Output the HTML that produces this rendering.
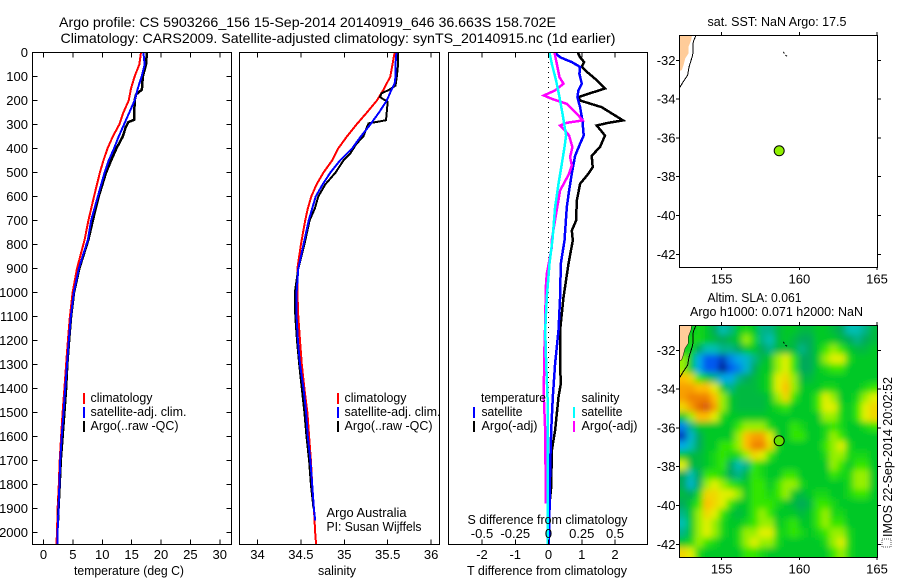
<!DOCTYPE html>
<html lang="en">
<head>
<meta charset="utf-8">
<title>Argo profile 5903266_156</title>
<style>
html,body{margin:0;padding:0;background:#fff;}
svg{display:block;}
text{font-family:"Liberation Sans",Arial,sans-serif;font-size:13px;fill:#000;}
</style>
</head>
<body>
<svg id="fig" xmlns="http://www.w3.org/2000/svg" width="900" height="580" viewBox="0 0 900 580">
<defs>
<clipPath id="clip-t"><rect x="32" y="52" width="200" height="493"/></clipPath>
<clipPath id="clip-s"><rect x="239" y="52" width="200" height="493"/></clipPath>
<clipPath id="clip-d"><rect x="448" y="52" width="200" height="493"/></clipPath>
<clipPath id="clip-m1"><rect x="679" y="35" width="198" height="232"/></clipPath>
<clipPath id="clip-m2"><rect x="679" y="325" width="198" height="232"/></clipPath>
<filter id="smooth" x="-5%" y="-5%" width="110%" height="110%"><feGaussianBlur stdDeviation="3.2"/></filter>
</defs>

<text x="59" y="27" textLength="497" lengthAdjust="spacingAndGlyphs" font-size="14" style="font-size:14px">Argo profile: CS 5903266_156 15-Sep-2014 20140919_646 36.663S 158.702E</text>
<text x="60.5" y="43" textLength="555" lengthAdjust="spacingAndGlyphs" style="font-size:14px">Climatology: CARS2009. Satellite-adjusted climatology: synTS_20140915.nc (1d earlier)</text>

<g id="layer-heat"></g>
<g id="layer-lines"></g>
<g id="layer-axes"></g>

<text x="74" y="575" textLength="110" lengthAdjust="spacingAndGlyphs">temperature (deg C)</text>
<text x="318" y="575" textLength="38" lengthAdjust="spacingAndGlyphs">salinity</text>
<text x="467" y="575" textLength="160" lengthAdjust="spacingAndGlyphs">T difference from climatology</text>
<text x="467.5" y="524" textLength="160" lengthAdjust="spacingAndGlyphs">S difference from climatology</text>

<g shape-rendering="crispEdges">
<rect x="83" y="393" width="2" height="11" fill="#f00"/>
<rect x="83" y="407" width="2" height="11" fill="#00f"/>
<rect x="83" y="421" width="2" height="11" fill="#000"/>
</g>
<text x="90.5" y="402" textLength="62" lengthAdjust="spacingAndGlyphs">climatology</text>
<text x="90.5" y="416" textLength="96" lengthAdjust="spacingAndGlyphs">satellite-adj. clim.</text>
<text x="90.5" y="430" textLength="88" lengthAdjust="spacingAndGlyphs">Argo(..raw -QC)</text>

<g shape-rendering="crispEdges">
<rect x="337" y="393" width="2" height="11" fill="#f00"/>
<rect x="337" y="407" width="2" height="11" fill="#00f"/>
<rect x="337" y="421" width="2" height="11" fill="#000"/>
</g>
<text x="344.5" y="402" textLength="62" lengthAdjust="spacingAndGlyphs">climatology</text>
<text x="344.5" y="416" textLength="96" lengthAdjust="spacingAndGlyphs">satellite-adj. clim.</text>
<text x="344.5" y="430" textLength="88" lengthAdjust="spacingAndGlyphs">Argo(..raw -QC)</text>
<text x="326.5" y="517" textLength="80" lengthAdjust="spacingAndGlyphs">Argo Australia</text>
<text x="326.5" y="531" textLength="95" lengthAdjust="spacingAndGlyphs">PI: Susan Wijffels</text>

<g shape-rendering="crispEdges">
<rect x="473" y="407" width="2" height="11" fill="#00f"/>
<rect x="473" y="421" width="2" height="11" fill="#000"/>
<rect x="573" y="407" width="2" height="11" fill="#0ff"/>
<rect x="573" y="421" width="2" height="11" fill="#f0f"/>
</g>
<text x="481" y="402" textLength="65" lengthAdjust="spacingAndGlyphs">temperature</text>
<text x="481.5" y="416" textLength="41" lengthAdjust="spacingAndGlyphs">satellite</text>
<text x="481.5" y="430" textLength="56" lengthAdjust="spacingAndGlyphs">Argo(-adj)</text>
<text x="581.5" y="402" textLength="38" lengthAdjust="spacingAndGlyphs">salinity</text>
<text x="581.5" y="416" textLength="41" lengthAdjust="spacingAndGlyphs">satellite</text>
<text x="581.5" y="430" textLength="56" lengthAdjust="spacingAndGlyphs">Argo(-adj)</text>

<text x="707.5" y="26" textLength="139" lengthAdjust="spacingAndGlyphs">sat. SST: NaN Argo: 17.5</text>
<text x="707.5" y="302" textLength="94" lengthAdjust="spacingAndGlyphs">Altim. SLA: 0.061</text>
<text x="690" y="316" textLength="173" lengthAdjust="spacingAndGlyphs">Argo h1000: 0.071 h2000: NaN</text>
<rect x="882" y="539" width="9" height="8" fill="none" stroke="#555" stroke-width="1" stroke-dasharray="1 1" shape-rendering="crispEdges"/>
<text transform="translate(892,537) rotate(-90)" textLength="160" lengthAdjust="spacingAndGlyphs">IMOS 22-Sep-2014 20:02:52</text>
</svg>

<script>
// ---------- temperature panel data ----------
const tempClimDepths = [0,50,100,150,200,250,300,350,400,450,500,600,700,780,900,1000,1100,1200,1300,1400,1500,1600,1700,1800,1900,2000,2050];
const tempClimValues = [16.6,16.3,15.5,14.9,14.5,13.6,12.9,11.8,10.9,10.2,9.6,8.6,7.65,7.0,5.7,4.95,4.5,4.15,3.85,3.55,3.25,3.0,2.75,2.6,2.4,2.3,2.2];
const tempSatValues = [17.0,17.2,16.7,16.05,15.5,14.6,13.7,12.8,12.0,11.1,10.4,9.25,8.1,7.55,6.0,5.15,4.65,4.3,4.0,3.7,3.4,3.1,2.85,2.7,2.55,2.4,2.4];
const tempArgoDepths = [0,50,100,155,175,200,280,290,310,350,400,450,500,600,700,780,900,1000,1100,1200,1300,1400,1500,1600,1700,1800,1900,1950];
const tempArgoValues = [17.6,17.45,16.9,16.75,15.75,15.5,15.45,14.45,14.0,13.5,12.4,11.5,10.65,9.4,8.4,7.65,6.1,5.2,4.7,4.35,4.05,3.85,3.55,3.25,2.95,2.75,2.55,2.5];

// ---------- salinity panel data ----------
const salClimDepths = [0,50,100,150,200,250,300,350,400,450,500,550,600,650,700,800,900,1000,1100,1200,1300,1400,1500,1600,1700,1800,1900,2000,2050];
const salClimValues = [35.58,35.555,35.53,35.46,35.375,35.26,35.14,35.03,34.93,34.86,34.76,34.68,34.62,34.58,34.55,34.5,34.46,34.46,34.47,34.49,34.51,34.54,34.575,34.595,34.615,34.63,34.65,34.665,34.675];
const salSatDepths = [0,50,100,130,150,200,250,300,350,400,450,500,550,600,650,700,800,900,1000,1100,1200,1300,1400,1500,1600,1700,1800,1900,1950];
const salSatValues = [35.6,35.59,35.59,35.58,35.55,35.49,35.4,35.3,35.19,35.09,34.95,34.84,34.75,34.67,34.63,34.59,34.53,34.47,34.45,34.45,34.465,34.49,34.53,34.56,34.58,34.61,34.63,34.65,34.665];
const salArgoDepths = [0,50,100,138,155,170,185,195,205,282,289,295,320,350,380,420,450,500,550,600,650,700,800,900,1000,1100,1200,1300,1400,1500,1600,1700,1800,1900];
const salArgoValues = [35.62,35.62,35.605,35.59,35.52,35.43,35.41,35.45,35.5,35.48,35.375,35.28,35.25,35.22,35.14,35.07,34.99,34.9,34.78,34.7,34.66,34.6,34.54,34.47,34.43,34.435,34.455,34.48,34.51,34.54,34.565,34.595,34.615,34.645];

// ---------- difference panel data ----------
const diffTArgoDepths = [0,20,40,60,80,115,150,172,186,200,228,283,293,304,346,394,430,478,505,547,617,700,742,783,880,1020,1158,1297,1380,1436,1575,1658,1810,1894,1950];
const diffTArgoValues = [0.88,0.95,1.07,1.0,1.15,1.45,1.7,1.2,0.9,0.95,1.6,2.24,1.8,1.45,1.7,1.55,1.3,1.33,1.2,0.95,0.85,0.83,0.7,0.73,0.6,0.45,0.35,0.35,0.37,0.3,0.2,0.1,0.08,0.02,0];
const diffTSatDepths = [0,20,40,60,89,130,158,186,228,283,346,380,430,505,575,644,783,880,1020,1158,1297,1436,1575,1714,1992,2050];
const diffTSatValues = [0.2,0.35,0.7,0.95,0.93,1.0,0.9,0.87,0.95,1.02,1.06,0.95,0.8,0.7,0.62,0.55,0.48,0.37,0.35,0.3,0.2,0.13,0.08,0.05,0.02,0.01];
const diffSArgoDepths = [0,47,103,130,158,179,193,214,255,283,293,304,318,346,394,436,470,505,575,672,780,811,922,978,1130,1269,1436,1575,1853,1880];
const diffSArgoValues = [0.045,0.0625,0.0825,0.1125,0.05,-0.035,0.025,0.1375,0.2125,0.2575,0.1375,0.0875,0.1125,0.155,0.18,0.1625,0.175,0.155,0.0875,0.0575,0.025,0.025,-0.0125,-0.02,-0.025,-0.0325,-0.035,-0.025,-0.02,-0.02];
const diffSSatDepths = [0,47,117,186,255,346,394,464,547,644,780,880,1020,1158,1297,1436,1714,1992,2050];
const diffSSatValues = [0.0075,0.025,0.0575,0.0825,0.105,0.1325,0.12,0.1,0.075,0.05,0.03,0.0075,-0.0125,-0.025,-0.0175,-0.0075,-0.0075,-0.0075,-0.0075];

// ---------- axis tick labels ----------
const depthTicks = [0,100,200,300,400,500,600,700,800,900,1000,1100,1200,1300,1400,1500,1600,1700,1800,1900,2000];
const tempTicks = [0,5,10,15,20,25,30];
const salTicks = [34,34.5,35,35.5,36];
const diffTTicks = [-2,-1,0,1,2];
const diffSTicks = [-0.5,-0.25,0,0.25,0.5];
const lonTicks = [155,160,165];
const latTicks = [-32,-34,-36,-38,-40,-42];

// ---------- map data ----------
const profileLon = 158.702;
const profileLat = -36.663;
const landLons = [152.27,153.07,153.02,152.85,152.85,152.64,152.53,152.42,152.27];
const landLats = [-30.7,-30.7,-30.95,-31.3,-31.64,-31.9,-32.24,-32.5,-32.54];
const coastLons = [153.35,153.17,153.13,152.9,152.81,152.53,152.27];
const coastLats = [-30.7,-31.04,-31.73,-32.33,-32.76,-33.1,-33.44];
const islandLons = [158.97,159.08,159.25];
const islandLats = [-31.56,-31.73,-31.81];

// sea level anomaly, north to south, west to east (relative colour units)
const slaRows = [
[null,null,1,0,-2,-4,-3,0,1,0,-3,-3,-1,0,0,-1,-1,0,0,-1,-2,-4,-4,-3,-1],
[null,1,1,0,-1,-2,-1,0,3,1,-3,-4,-1,0,-1,-2,-2,0,0,0,-1,-2,-3,-2,-1],
[null,1,-2,-4,-4,-3,-3,-2,0,0,-2,-3,-1,-1,-1,-3,-2,0,2,3,2,0,-1,-1,0],
[3,0,-6,-8,-8,-9,-7,-6,-5,-3,-1,0,3,4,2,-2,-2,0,3,4,4,1,0,0,0],
[3,0,-6,-8,-8,-10,-8,-7,-5,-2,0,0,3,4,2,-2,-2,0,1,2,2,0,0,0,0],
[6,5,2,0,-3,-6,-6,-3,-2,-1,0,1,4,5,3,-1,-1,0,0,0,0,0,0,0,0],
[7,7,6,6,4,0,-3,-1,-1,-1,0,1,4,6,3,0,0,0,1,1,0,0,0,1,2],
[7,8,8,8,6,3,0,-1,-1,-1,-1,0,3,5,2,0,0,2,4,3,0,0,1,3,4],
[5,7,9,10,7,3,0,-1,-1,-1,-1,0,1,2,0,0,0,2,4,4,1,0,2,4,5],
[0,3,6,6,4,1,0,0,0,0,0,0,0,0,0,0,0,0,3,3,1,0,2,4,5],
[-7,-3,0,0,0,0,0,2,3,3,3,1,0,0,2,1,0,0,1,2,1,0,0,1,2],
[-9,-5,-2,0,0,0,0,3,6,7,7,4,0,0,2,2,0,0,1,3,2,0,0,0,0],
[-6,-4,-2,0,0,2,2,3,6,8,8,5,1,0,0,0,0,0,2,3,4,1,0,0,0],
[0,-1,-1,0,1,2,1,1,3,5,4,2,0,0,0,0,0,0,1,3,3,1,1,1,0],
[4,-1,-1,0,1,2,-2,-4,-3,2,1,0,0,0,0,0,0,0,0,3,2,0,2,2,0],
[-2,-4,-2,2,2,1,-2,-3,-1,2,1,0,0,2,2,0,0,0,0,2,1,1,3,3,0],
[-2,-5,-2,3,4,3,2,1,0,2,2,0,2,3,3,1,0,0,0,0,0,1,3,3,0],
[-1,-2,1,5,5,4,4,3,0,2,2,1,2,3,0,-1,0,1,1,0,0,1,2,2,0],
[-2,0,2,6,5,4,2,0,0,2,2,2,1,0,-1,-2,-1,2,2,1,0,0,0,0,0],
[-3,0,3,5,4,2,0,-1,0,2,3,2,0,0,0,-1,0,2,3,1,1,0,0,0,0],
[-4,0,3,4,3,1,0,0,1,2,3,3,0,1,2,0,0,2,3,2,2,0,0,0,0],
[-3,0,3,4,3,1,0,1,3,3,4,4,1,1,2,1,0,1,2,3,3,1,0,0,0],
[0,1,3,2,1,0,0,1,3,4,3,3,1,0,0,0,0,0,1,3,4,1,0,0,0],
[5,4,1,0,0,0,0,0,2,2,1,0,0,0,0,0,0,0,0,2,3,1,0,0,0]
];
const colourLevels = [-10,-8,-6,-4,-2,0,2,3,4,6,8,10];
const colourReds = [0,0,0,0,0,0,50,150,225,255,240,215];
const colourGreens = [30,90,170,190,170,200,230,240,240,190,130,90];
const colourBlues = [140,240,230,180,90,40,0,0,0,0,0,10];

// ---------- axis functions ----------
const SVGNS = 'http://www.w3.org/2000/svg';
const yDepth = d => 52.5 + 0.24 * d;
const xTemp = v => 43.5 + 5.875 * v;
const xSal = v => 257.5 + 86.8 * (v - 34);
const xDiffT = v => 548.5 + 33.25 * v;
const xDiffS = v => 548.5 + 133 * v;
const xLon = v => 721.7 + 15.53 * (v - 155);
const yLatTop = v => 60.3 + 19.4 * (-32 - v);
const yLatBot = v => 350.3 + 19.4 * (-32 - v);

function make(tag, parent, attrs) {
  const el = document.createElementNS(SVGNS, tag);
  for (const k in attrs) el.setAttribute(k, attrs[k]);
  parent.appendChild(el);
  return el;
}
function slaColour(v) {
  let i = 0;
  while (i < colourLevels.length - 2 && v > colourLevels[i + 1]) i++;
  const t = Math.max(0, Math.min(1, (v - colourLevels[i]) / (colourLevels[i + 1] - colourLevels[i])));
  const mix = a => Math.round(a[i] + (a[i + 1] - a[i]) * t);
  return 'rgb(' + mix(colourReds) + ',' + mix(colourGreens) + ',' + mix(colourBlues) + ')';
}
function pointsOf(xs, ys) {
  return xs.map((x, i) => x.toFixed(1) + ',' + ys[i].toFixed(1)).join(' ');
}

const lines = document.getElementById('layer-lines');
const axes = document.getElementById('layer-axes');
const heat = document.getElementById('layer-heat');

function profile(parent, name, depths, values, xFn, colour, width) {
  const el = make('polyline', parent, {
    points: pointsOf(values.map(xFn), depths.map(yDepth)),
    fill: 'none', stroke: colour, 'stroke-width': width,
    'stroke-linejoin': 'miter', 'shape-rendering': 'crispEdges'
  });
  
  
}
function frame(x, y, w, h, name) {
  const el = make('rect', axes, {x: x, y: y, width: w, height: h, fill: 'none', stroke: '#000', 'stroke-width': 1, 'shape-rendering': 'crispEdges'});
  
  
}
function tick(x1, y1, x2, y2) {
  const el = make('line', axes, {x1: x1, y1: y1, x2: x2, y2: y2, stroke: '#000', 'stroke-width': 1, 'shape-rendering': 'crispEdges'});
  
  
}
function label(x, y, str, anchor) {
  const el = make('text', axes, {x: x, y: y, 'text-anchor': anchor});
  el.textContent = str;
  
  
}

// ---------- temperature panel ----------
const gT = make('g', lines, {'clip-path': 'url(#clip-t)'});


profile(gT, 'temperature-climatology-line', tempClimDepths, tempClimValues, xTemp, '#f00', 2);
profile(gT, 'temperature-argo-line', tempArgoDepths, tempArgoValues, xTemp, '#000', 2.5);
profile(gT, 'temperature-satellite-line', tempClimDepths, tempSatValues, xTemp, '#00f', 2);

// ---------- salinity panel ----------
const gS = make('g', lines, {'clip-path': 'url(#clip-s)'});


profile(gS, 'salinity-climatology-line', salClimDepths, salClimValues, xSal, '#f00', 2);
profile(gS, 'salinity-argo-line', salArgoDepths, salArgoValues, xSal, '#000', 2);
profile(gS, 'salinity-satellite-line', salSatDepths, salSatValues, xSal, '#00f', 2);

// ---------- difference panel ----------
const gD = make('g', lines, {'clip-path': 'url(#clip-d)'});


const zeroLine = make('line', gD, {x1: xDiffT(0), y1: 52, x2: xDiffT(0), y2: 545, stroke: '#000', 'stroke-width': 1, 'stroke-dasharray': '1 4', 'shape-rendering': 'crispEdges'});


profile(gD, 't-difference-argo-line', diffTArgoDepths, diffTArgoValues, xDiffT, '#000', 2.5);
profile(gD, 't-difference-satellite-line', diffTSatDepths, diffTSatValues, xDiffT, '#00f', 2.5);
profile(gD, 's-difference-argo-line', diffSArgoDepths, diffSArgoValues, xDiffS, '#f0f', 2.5);
profile(gD, 's-difference-satellite-line', diffSSatDepths, diffSSatValues, xDiffS, '#0ff', 2.5);

// ---------- profile axes ----------
frame(32.5, 52.5, 199, 492, 'temperature-plot-frame');
frame(239.5, 52.5, 200, 492, 'salinity-plot-frame');
frame(448.5, 52.5, 199, 492, 'difference-plot-frame');
depthTicks.forEach(d => {
  tick(32.5, yDepth(d), 37.5, yDepth(d));
  tick(226.5, yDepth(d), 231.5, yDepth(d));
  label(28, yDepth(d) + 4.5, String(d), 'end');
});
tempTicks.forEach(v => {
  tick(xTemp(v), 52.5, xTemp(v), 57.5);
  tick(xTemp(v), 539.5, xTemp(v), 544.5);
  label(xTemp(v), 559, String(v), 'middle');
});
salTicks.forEach(v => {
  tick(xSal(v), 52.5, xSal(v), 57.5);
  tick(xSal(v), 539.5, xSal(v), 544.5);
  label(xSal(v), 559, String(v), 'middle');
});
diffTTicks.forEach(v => {
  tick(xDiffT(v), 52.5, xDiffT(v), 57.5);
  tick(xDiffT(v), 539.5, xDiffT(v), 544.5);
  label(xDiffT(v), 559, String(v), 'middle');
});
diffSTicks.forEach(v => {
  label(xDiffS(v), 538, String(v), 'middle');
});

// ---------- SLA heatmap ----------
const mapBottom = make('g', heat, {'clip-path': 'url(#clip-m2)'});


const seaBack = make('rect', mapBottom, {x: 679, y: 325, width: 198, height: 232, fill: '#00c828'});


const cells = make('g', mapBottom, {filter: 'url(#smooth)'});


const cellW = 198 / slaRows[0].length;
const cellH = 232 / slaRows.length;
slaRows.forEach((row, r) => {
  row.forEach((v, c) => {
    if (v === null) return;
    const left = c === 0 ? 669 : 679 + c * cellW;
    const right = c === row.length - 1 ? 887 : 679 + (c + 1) * cellW;
    const top = r === 0 ? 315 : 325 + r * cellH;
    const bottom = r === slaRows.length - 1 ? 567 : 325 + (r + 1) * cellH;
    const cell = make('rect', cells, {x: left, y: top, width: right - left + 0.5, height: bottom - top + 0.5, fill: slaColour(v)});
    
    
  });
});

// ---------- maps ----------
function drawMap(yFn, clipId, prefix, markerFill, landEdge) {
  const g = make('g', axes, {'clip-path': 'url(#' + clipId + ')'});
  
  
  const land = make('polygon', g, {points: pointsOf(landLons.map(xLon), landLats.map(yFn)), fill: '#ffcc99', stroke: landEdge, 'stroke-width': 0.5});
  
  
  const coast = make('polyline', g, {points: pointsOf(coastLons.map(xLon), coastLats.map(yFn)), fill: 'none', stroke: '#000', 'stroke-width': 1, 'shape-rendering': 'crispEdges'});
  
  
  const island = make('polyline', g, {points: pointsOf(islandLons.map(xLon), islandLats.map(yFn)), fill: 'none', stroke: '#000', 'stroke-width': 1, 'stroke-dasharray': '2 2'});
  
  
  const marker = make('circle', g, {cx: xLon(profileLon), cy: yFn(profileLat), r: 5, fill: markerFill, stroke: '#000', 'stroke-width': 1});
  
  
  const top = yFn(-30.7);
  const bottom = yFn(-42.65);
  frame(679.5, Math.round(top) + 0.5, 198, 232, prefix + '-frame');
  lonTicks.forEach(v => {
    tick(xLon(v), top - 3, xLon(v), top);
    tick(xLon(v), bottom, xLon(v), bottom + 3);
    label(xLon(v), bottom + 16.5, String(v), 'middle');
  });
  latTicks.forEach(v => {
    tick(676, yFn(v), 679.5, yFn(v));
    tick(877.5, yFn(v), 881, yFn(v));
    label(675.5, yFn(v) + 4.5, String(v), 'end');
  });
}
drawMap(yLatTop, 'clip-m1', 'sst-map', '#8ff000', '#ffcc99');
drawMap(yLatBot, 'clip-m2', 'sla-map', '#66e000', '#000');
</script>
</body>
</html>
